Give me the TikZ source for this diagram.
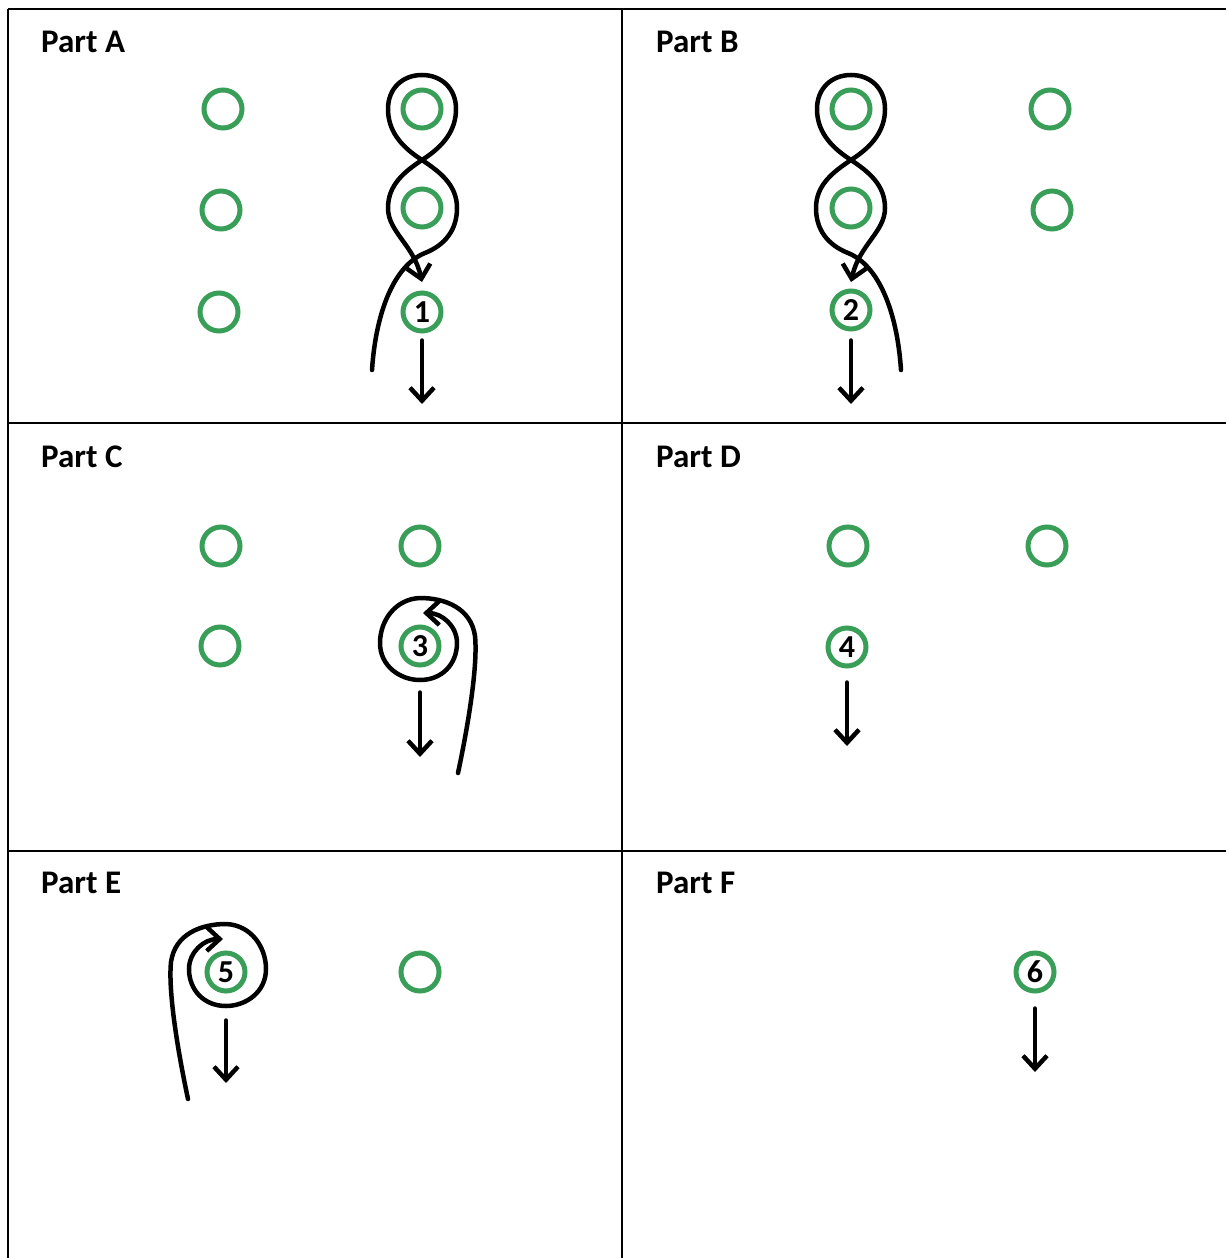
\documentclass[tikz,border=0pt]{standalone}
\usepackage{fontspec}
\setmainfont{Carlito}
\usetikzlibrary{arrows.meta}
\definecolor{pegreen}{RGB}{57,158,88}

\begin{document}
\begin{tikzpicture}[x=1pt,y=-1pt,
    hole/.style={draw=pegreen,line width=5pt,circle,minimum size=38pt,inner sep=0pt},
    num/.style={hole,font=\fontsize{32}{32}\selectfont\bfseries},
    title/.style={anchor=base west,inner sep=0pt,font=\fontsize{33}{33}\selectfont\bfseries},
    rope/.style={line width=4.5pt,line cap=round,-{Straight Barb[length=13pt,width=24pt]}},
    rule/.style={line width=2pt}]
  \useasboundingbox (0,0) rectangle (1226,1258);
  % table lines
  \draw[rule] (8,9) -- (1226,9);
  \draw[rule] (8,423) -- (1226,423);
  \draw[rule] (8,851) -- (1226,851);
  \draw[rule] (8,9) -- (8,1258);
  \draw[rule] (622,9) -- (622,1258);
  \foreach \x/\y/\name/\txt in {
    41/52/tA/Part A, 656/52/tB/Part B,
    41/467/tC/Part C, 656/467/tD/Part D,
    41/893/tE/Part E, 656/893/tF/Part F}{
      \node[title] (\name) at (\x,\y) {\txt};
  }
  % empty holes
  \foreach \x/\y/\name in {
    223/109/a1, 221/210/a2, 219/312/a3, 422/109/a4, 422/208/a5,
    851/109/b1, 851/208/b2, 1050/109/b3, 1052/210/b4,
    221/546/c1, 420/546/c2, 220/646/c3,
    848/546/d1, 1047/546/d2,
    420/972/e1}{
      \node[hole] (\name) at (\x,\y) {};
  }
  % numbered holes with their down arrows
  \foreach \x/\y/\n/\ey/\gap in {
    422/312/1/404/7, 851/310/2/404/9,
    420/646/3/757/25, 847/647/4/746/14,
    226/972/5/1083/27, 1035/972/6/1072/15}{
      \node[num] (n\n) at (\x,\y) {\n};
      \coordinate (tip\n) at (\x,\ey);
      \draw[rope,shorten <=\gap pt] (n\n) -- (tip\n);
  }
  % figure-eight lacing, A and B are mirrored
  \foreach \cx/\s in {422/1, 851/-1}{
    \begin{scope}[shift={(\cx,0)},xscale=\s]
      \draw[rope] (-50,370) .. controls (-46,310) and (-27,265) .. (3,253)
        .. controls (23,245) and (35,230) .. (35,208)
        .. controls (35,185) and (18,172) .. (0,160)
        .. controls (-22,146) and (-34,130) .. (-34,109)
        .. controls (-34,88) and (-19,75) .. (0,75)
        .. controls (19,75) and (34,88) .. (34,109)
        .. controls (34,130) and (22,146) .. (0,160)
        .. controls (-18,172) and (-34,185) .. (-34,208)
        .. controls (-34,232) and (-8,245) .. (0,282);
    \end{scope}
  }
  % wrap round one hole, C and E are mirrored
  \foreach \cx/\cy/\s in {420/646/1, 226/972/-1}{
    \begin{scope}[shift={(\cx,\cy)},xscale=\s]
      \draw[rope] (38,127) .. controls (48,80) and (58,20) .. (55,-10)
        .. controls (51,-38) and (25,-48) .. (0,-48)
        .. controls (-25,-47) and (-40,-25) .. (-40,-3)
        .. controls (-40,20) and (-20,34) .. (0,34)
        .. controls (22,34) and (37,18) .. (37,-3)
        .. controls (37,-20) and (22,-33) .. (3,-33);
    \end{scope}
  }
\end{tikzpicture}
\end{document}
